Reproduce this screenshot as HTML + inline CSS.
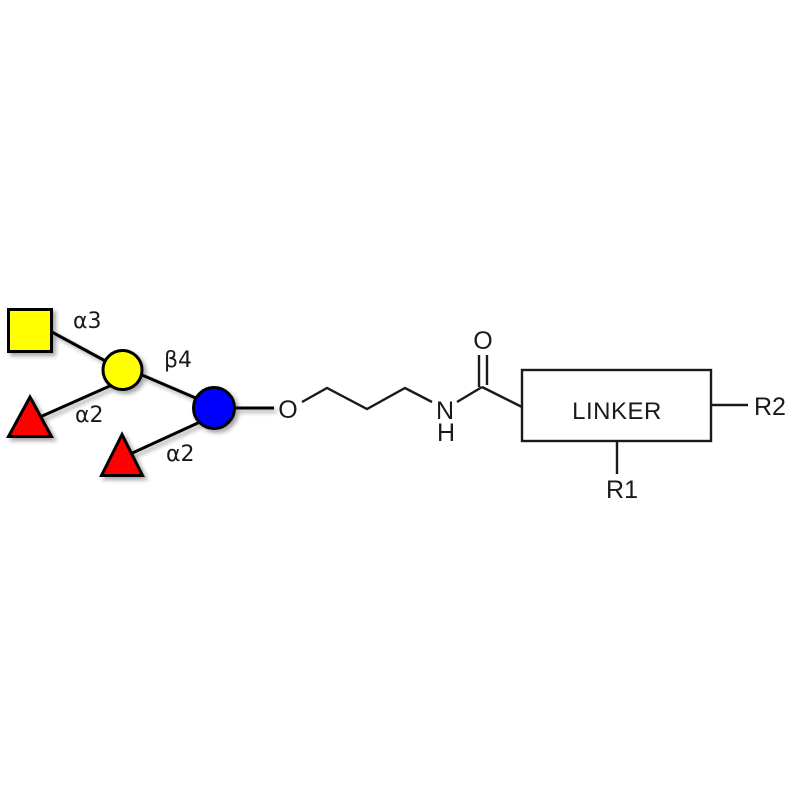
<!DOCTYPE html>
<html><head><meta charset="utf-8"><style>
html,body{margin:0;padding:0;background:#fff;}
svg{display:block;}
</style></head><body>
<svg width="800" height="800" viewBox="0 0 800 800" xmlns="http://www.w3.org/2000/svg">
<defs>
<filter id="sh" x="-20%" y="-20%" width="150%" height="150%">
<feDropShadow dx="3" dy="3" stdDeviation="2" flood-color="#000" flood-opacity="0.35"/>
</filter>
</defs>
<rect width="800" height="800" fill="#fff"/>
<g filter="url(#sh)">
<g stroke="#000" stroke-width="3" fill="none" stroke-linecap="round">
<line x1="50" y1="331" x2="122" y2="370"/>
<line x1="112" y1="385" x2="40" y2="417"/>
<line x1="135" y1="372" x2="205" y2="402"/>
<line x1="200" y1="422" x2="128" y2="455"/>
<line x1="235" y1="408" x2="274" y2="408" stroke-linecap="butt"/>
</g>
<rect x="8.5" y="309.5" width="43" height="42" fill="#ffff00" stroke="#000" stroke-width="3"/>
<circle cx="122.5" cy="370" r="19.5" fill="#ffff00" stroke="#000" stroke-width="3"/>
<circle cx="214" cy="408" r="20.5" fill="#0000ff" stroke="#000" stroke-width="3"/>
<polygon points="30,397 8.5,436.5 51.5,436.5" fill="#ff0000" stroke="#000" stroke-width="3"/>
<polygon points="122,434.5 101.5,475.5 142.5,475.5" fill="#ff0000" stroke="#000" stroke-width="3"/>
</g>
<g font-family="'DejaVu Sans', sans-serif" font-size="22" fill="#1a1a1a">
<text x="73" y="328">α3</text>
<text x="164" y="367">β4</text>
<text x="75" y="422">α2</text>
<text x="166" y="461">α2</text>
</g>
<g stroke="#1a1a1a" stroke-width="2.4" fill="none" stroke-linejoin="miter">
<polyline points="302,402 327,388 367,409 405,388 432,402"/>
<line x1="457" y1="402" x2="482" y2="387"/>
<line x1="479" y1="355" x2="479" y2="387"/>
<line x1="487" y1="355" x2="487" y2="385"/>
<line x1="482" y1="387" x2="522" y2="407"/>
<rect x="522" y="370" width="189" height="71"/>
<line x1="711" y1="405" x2="748" y2="405"/>
<line x1="617" y1="441" x2="617" y2="474"/>
</g>
<g font-family="'Liberation Sans', Arial, sans-serif" font-size="25" fill="#1a1a1a">
<text x="288" y="418" text-anchor="middle">O</text>
<text x="483" y="349" text-anchor="middle">O</text>
<text x="445" y="419" text-anchor="middle">N</text>
<text x="446" y="441" text-anchor="middle">H</text>
<text x="617" y="419" text-anchor="middle" font-size="24" letter-spacing="0.5">LINKER</text>
<text x="754" y="415">R2</text>
<text x="622" y="498" text-anchor="middle">R1</text>
</g>
</svg>
</body></html>
